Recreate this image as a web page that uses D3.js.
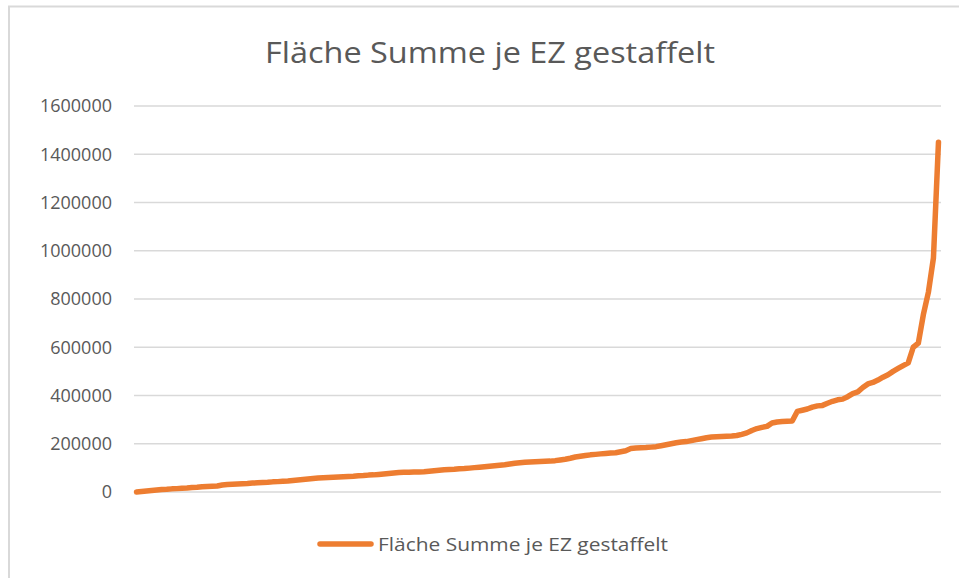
<!DOCTYPE html>
<html>
<head>
<meta charset="utf-8">
<script src="https://cdn.jsdelivr.net/npm/d3@7"></script>
<style>
  body { margin: 0; background: #fff; }
  svg text { font-family: "Open Sans", "Noto Sans", sans-serif; fill: #595959; }
</style>
</head>
<body>
<svg id="chart" width="959" height="578"></svg>
<script>
// chart title and series name
const title = "Fläche Summe je EZ gestaffelt";
const seriesName = "Fläche Summe je EZ gestaffelt";

// y axis ticks
const yTicks = [0, 200000, 400000, 600000, 800000, 1000000, 1200000, 1400000, 1600000];

// sorted values (one per EZ)
const values = [
  0, 2000, 4000, 6000, 8000, 10000, 11000, 13000, 14000, 16000,
  17000, 19000, 20000, 22000, 23000, 24000, 25000, 29000, 31000, 32000,
  33000, 34000, 35000, 37000, 38000, 39000, 40000, 42000, 43000, 45000,
  46000, 48000, 50000, 52000, 54000, 56000, 58000, 59000, 60000, 61000,
  62000, 63000, 64000, 65000, 67000, 68000, 70000, 71000, 73000, 75000,
  77000, 79000, 81000, 82000, 82000, 83000, 83000, 84000, 86000, 88000,
  90000, 92000, 93000, 94000, 96000, 97000, 99000, 101000, 103000, 105000,
  107000, 109000, 111000, 113000, 116000, 119000, 121000, 123000, 124000, 125000,
  126000, 127000, 128000, 130000, 133000, 136000, 140000, 145000, 148000, 151000,
  154000, 156000, 158000, 160000, 162000, 163000, 167000, 171000, 180000, 182000,
  183000, 184000, 186000, 188000, 192000, 196000, 200000, 204000, 207000, 209000,
  213000, 217000, 221000, 225000, 228000, 229000, 230000, 231000, 232000, 234000,
  239000, 245000, 255000, 263000, 268000, 272000, 286000, 290000, 292000, 293000,
  294000, 334000, 339000, 344000, 352000, 357000, 359000, 368000, 376000, 382000,
  385000, 395000, 408000, 415000, 433000, 448000, 454000, 464000, 476000, 486000,
  500000, 512000, 524000, 535000, 600000, 617000, 735000, 828000, 970000, 1450000
];
const categories = values.map((d, i) => i + 1);

const svg = d3.select("#chart");
const margin = { left: 134, right: 18, top: 106, bottom: 86 };
const W = 959, H = 578;

// chart area frame (only top and left edges show in the shot)
svg.append("line").attr("x1", 8).attr("x2", W).attr("y1", 6.5).attr("y2", 6.5)
  .attr("stroke", "#d9d9d9").attr("stroke-width", 2);
svg.append("line").attr("x1", 9).attr("x2", 9).attr("y1", 6).attr("y2", H)
  .attr("stroke", "#d9d9d9").attr("stroke-width", 2);

const x = d3.scalePoint()
  .domain(categories)
  .range([margin.left, W - margin.right])
  .padding(0.5);

const y = d3.scaleLinear()
  .domain([0, 1600000])
  .range([H - margin.bottom, margin.top]);

// gridlines
svg.append("g")
  .selectAll("line")
  .data(yTicks)
  .join("line")
  .attr("x1", margin.left)
  .attr("x2", W - margin.right)
  .attr("y1", d => y(d))
  .attr("y2", d => y(d))
  .attr("stroke", "#d9d9d9")
  .attr("stroke-width", 1.3);

// y axis labels
const yAxis = svg.append("g")
  .attr("transform", "translate(" + (margin.left - 22) + ",0)")
  .call(d3.axisLeft(y).tickValues(yTicks).tickSize(0).tickPadding(0).tickFormat(d3.format("d")));
yAxis.select(".domain").remove();
yAxis.selectAll("text")
  .style("font-size", "18px")
  .style("font-family", "'Open Sans', sans-serif")
  .attr("fill", "#595959");

// the line
const line = d3.line()
  .x((d, i) => x(categories[i]))
  .y(d => y(d));

svg.append("path")
  .datum(values)
  .attr("d", line)
  .attr("fill", "none")
  .attr("stroke", "#ED7D31")
  .attr("stroke-width", 5.5)
  .attr("stroke-linejoin", "round")
  .attr("stroke-linecap", "round");

// title
svg.append("text")
  .attr("x", 265)
  .attr("y", 63)
  .attr("textLength", 450)
  .attr("lengthAdjust", "spacingAndGlyphs")
  .style("font-size", "30px")
  .text(title);

// legend
svg.append("line")
  .attr("x1", 320).attr("x2", 371)
  .attr("y1", 544).attr("y2", 544)
  .attr("stroke", "#ED7D31")
  .attr("stroke-width", 5.5)
  .attr("stroke-linecap", "round");
svg.append("text")
  .attr("x", 378)
  .attr("y", 551)
  .attr("textLength", 290)
  .attr("lengthAdjust", "spacingAndGlyphs")
  .style("font-size", "18.5px")
  .text(seriesName);
</script>
</body>
</html>
